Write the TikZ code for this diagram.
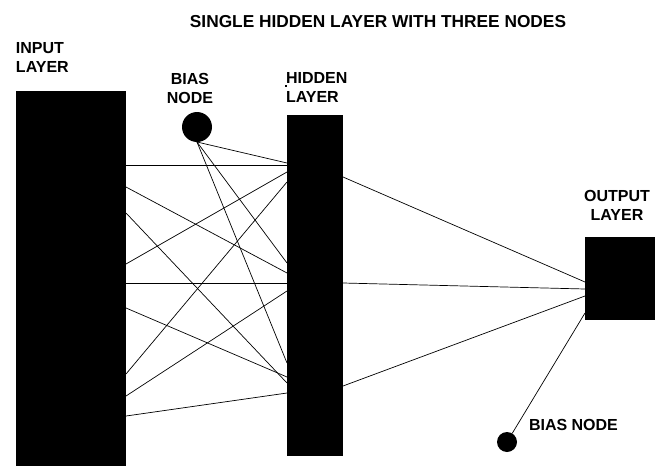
\documentclass[tikz,border=0pt]{standalone}
\usepackage{fontspec}
\setmainfont{Liberation Sans}
\begin{document}
\begin{tikzpicture}[x=1pt,y=-1pt,
  layerbox/.style={rectangle, fill=black, draw=none, inner sep=0pt, outer sep=0pt},
  biasnode/.style={circle, fill=black, draw=none, inner sep=0pt, outer sep=0pt},
  lbl/.style={font=\bfseries\fontsize{16}{19.5}\selectfont, inner sep=0pt, outer sep=0pt},
  conn/.style={line width=0.7pt, black}]
\useasboundingbox (0,0) rectangle (662,466);
% layers
\node[layerbox, minimum width=110pt, minimum height=375pt, anchor=north west] (inp) at (16,91) {};
\node[layerbox, minimum width=56pt, minimum height=341pt, anchor=north west] (hid) at (287,115) {};
\node[layerbox, minimum width=70pt, minimum height=83pt, anchor=north west] (out) at (585,237) {};
\node[biasnode, minimum size=30pt] (b1) at (197,127) {};
\node[biasnode, minimum size=20pt] (b2) at (507,442) {};
% labels
\node[lbl, font=\bfseries\fontsize{17.3}{20}\selectfont, anchor=north] (title) at (378,15) {SINGLE HIDDEN LAYER WITH THREE NODES};
\node[lbl, align=left, anchor=north west] (tin) at (16,42) {INPUT\\LAYER};
\node[lbl, align=center, anchor=north] (tb1) at (190,73) {BIAS\\NODE};
\node[lbl, align=left, anchor=north west] (thid) at (286,72) {HIDDEN\\LAYER};
\node[lbl, align=center, anchor=north] (tout) at (617,190) {OUTPUT\\LAYER};
\node[lbl, anchor=north west] (tb2) at (529,419) {BIAS NODE};
\fill (285,85) rectangle (287,87);
% input -> hidden
\draw[conn] (inp.east |- 0,165) -- (hid.west |- 0,165);
\draw[conn] (inp.east |- 0,187) -- (hid.west |- 0,273);
\draw[conn] (inp.east |- 0,213) -- (hid.west |- 0,383);
\draw[conn] (inp.east |- 0,264) -- (hid.west |- 0,172);
\draw[conn] (inp.east |- 0,283) -- (hid.west |- 0,283);
\draw[conn] (inp.east |- 0,308) -- (hid.west |- 0,377);
\draw[conn] (inp.east |- 0,374) -- (hid.west |- 0,182);
\draw[conn] (inp.east |- 0,396) -- (hid.west |- 0,291);
\draw[conn] (inp.east |- 0,416) -- (hid.west |- 0,393);
% bias -> hidden
\draw[conn] (b1.south) -- (hid.west |- 0,163);
\draw[conn] (b1.south) -- (hid.west |- 0,263);
\draw[conn] (b1.south) -- (hid.west |- 0,363);
% hidden -> output
\draw[conn] (hid.east |- 0,177) -- (out.west |- 0,282);
\draw[conn] (hid.east |- 0,283) -- (out.west |- 0,289);
\draw[conn] (hid.east |- 0,386) -- (out.west |- 0,296);
% bias -> output
\draw[conn] (b2) -- (out.west |- 0,313);
\end{tikzpicture}
\end{document}
